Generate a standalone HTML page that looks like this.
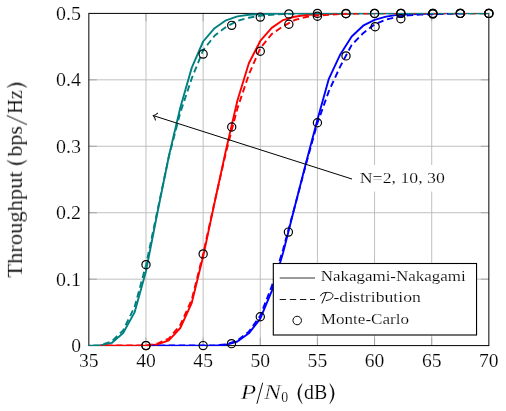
<!DOCTYPE html>
<html><head><meta charset="utf-8"><title>Throughput</title>
<style>
html,body{margin:0;padding:0;background:#fff;}
body{width:506px;height:411px;overflow:hidden;font-family:"Liberation Serif",serif;}
svg{position:absolute;left:0;top:0;display:block;}
text{font-family:"Liberation Serif",serif;fill:#000;stroke:#fff;stroke-width:0.16px;}
</style></head><body>
<svg width="506" height="411" viewBox="0 0 506 411">
<rect x="0" y="0" width="506" height="411" fill="#fff"/>

<path d="M145.99,13.40 V345.60 M203.14,13.40 V345.60 M260.28,13.40 V345.60 M317.42,13.40 V345.60 M374.56,13.40 V345.60 M431.71,13.40 V345.60 M88.85,279.16 H488.85 M88.85,212.72 H488.85 M88.85,146.28 H488.85 M88.85,79.84 H488.85" stroke="#b9b9b9" stroke-width="0.9" fill="none"/>
<path d="M145.99,345.60 v-8 M145.99,13.40 v8 M203.14,345.60 v-8 M203.14,13.40 v8 M260.28,345.60 v-8 M260.28,13.40 v8 M317.42,345.60 v-8 M317.42,13.40 v8 M374.56,345.60 v-8 M374.56,13.40 v8 M431.71,345.60 v-8 M431.71,13.40 v8 M88.85,279.16 h8 M488.85,279.16 h-8 M88.85,212.72 h8 M488.85,212.72 h-8 M88.85,146.28 h8 M488.85,146.28 h-8 M88.85,79.84 h8 M488.85,79.84 h-8" stroke="#9a9a9a" stroke-width="0.8" fill="none"/>
<rect x="88.85" y="13.40" width="400.00" height="332.20" fill="none" stroke="#000" stroke-width="1.0"/>
<clipPath id="pc"><rect x="88.35" y="12.90" width="401.00" height="333.20"/></clipPath>
<g fill="none" stroke-width="1.9" stroke-linejoin="round" clip-path="url(#pc)">
<path d="M151.71,345.60 L214.56,345.60 L225.99,344.80 L237.42,341.48 L248.85,333.31 L260.28,318.69 L271.71,291.12 L283.14,252.58 L294.56,207.40 L305.99,162.89 L317.42,119.70 L328.85,78.84 L340.28,54.46 L351.71,36.52 L363.14,25.69 L374.56,19.84 L385.99,16.59 L397.42,14.86 L408.85,14.20 L420.28,13.93 L431.71,13.67 L443.14,13.40" stroke="#0000ff"/>
<path d="M100.28,345.60 L145.99,345.60 L157.42,344.40 L168.85,340.28 L180.28,327.99 L191.71,303.08 L203.14,256.57 L214.56,202.75 L225.99,149.93 L237.42,100.44 L248.85,63.23 L260.28,40.97 L271.71,27.88 L283.14,20.04 L294.56,16.72 L305.99,15.06 L317.42,14.40 L328.85,13.93 L340.28,13.60 L351.71,13.40" stroke="#ff0000"/>
<path d="M88.85,345.60 L100.28,345.40 L111.71,342.94 L123.14,332.98 L134.56,312.38 L145.99,271.19 L157.42,212.72 L168.85,156.25 L180.28,107.74 L191.71,67.88 L203.14,41.50 L214.56,28.22 L225.99,20.31 L237.42,16.39 L248.85,14.80 L260.28,14.06 L271.71,13.73 L283.14,13.53 L294.56,13.40 L488.85,13.40" stroke="#008080"/>
<path d="M151.71,345.60 L214.56,345.47 L225.99,344.27 L237.42,340.62 L248.85,331.65 L260.28,315.70 L271.71,286.47 L283.14,249.26 L294.56,207.40 L305.99,164.22 L317.42,123.03 L328.85,91.13 L340.28,66.35 L351.71,44.89 L363.14,33.20 L374.56,24.36 L385.99,19.71 L397.42,16.72 L408.85,15.39 L420.28,14.66 L431.71,14.20 L443.14,13.93 L454.56,13.67 L465.99,13.40" stroke="#0000ff" stroke-dasharray="6.4 3.7" stroke-dashoffset="3.26"/>
<path d="M100.28,345.60 L145.99,345.40 L157.42,343.61 L168.85,338.62 L180.28,325.00 L191.71,299.76 L203.14,253.91 L214.56,202.09 L225.99,152.26 L237.42,108.41 L248.85,74.52 L260.28,48.21 L271.71,34.13 L283.14,26.16 L294.56,20.04 L305.99,16.99 L317.42,15.59 L328.85,14.73 L340.28,14.06 L351.71,13.73 L363.14,13.53 L374.56,13.40" stroke="#ff0000" stroke-dasharray="6.4 3.7" stroke-dashoffset="4.33"/>
<path d="M374.56,13.40 H488.85" stroke="#ff0000" stroke-dasharray="6.4 3.7" stroke-dashoffset="5.56"/>
<path d="M88.85,345.60 L100.28,345.33 L111.71,341.48 L123.14,330.32 L134.56,307.06 L145.99,265.21 L157.42,210.73 L168.85,156.58 L180.28,112.73 L191.71,78.51 L203.14,50.27 L214.56,35.72 L225.99,27.02 L237.42,20.84 L248.85,17.72 L260.28,15.79 L271.71,14.73 L283.14,14.06 L294.56,13.73 L305.99,13.53 L317.42,13.40" stroke="#008080" stroke-dasharray="6.4 3.7" stroke-dashoffset="5.40"/>
<path d="M317.42,13.40 H488.85" stroke="#008080" stroke-dasharray="6.4 3.7" stroke-dashoffset="0.52"/>
</g>
<g fill="none" stroke="#000" stroke-width="1.2">
<circle cx="145.99" cy="264.68" r="4.1"/>
<circle cx="203.14" cy="54.06" r="4.1"/>
<circle cx="231.71" cy="25.36" r="4.1"/>
<circle cx="260.28" cy="17.12" r="4.1"/>
<circle cx="288.85" cy="13.93" r="4.1"/>
<circle cx="317.42" cy="13.40" r="4.1"/>
<circle cx="345.99" cy="13.40" r="4.1"/>
<circle cx="374.56" cy="13.40" r="4.1"/>
<circle cx="400.85" cy="13.40" r="4.1"/>
<circle cx="432.85" cy="13.40" r="4.1"/>
<circle cx="460.28" cy="13.40" r="4.1"/>
<circle cx="488.85" cy="13.40" r="4.1"/>
<circle cx="145.99" cy="345.60" r="4.1"/>
<circle cx="203.14" cy="253.91" r="4.1"/>
<circle cx="231.71" cy="127.01" r="4.1"/>
<circle cx="260.28" cy="51.27" r="4.1"/>
<circle cx="288.85" cy="24.23" r="4.1"/>
<circle cx="317.42" cy="16.19" r="4.1"/>
<circle cx="345.99" cy="13.73" r="4.1"/>
<circle cx="374.56" cy="13.40" r="4.1"/>
<circle cx="400.85" cy="13.40" r="4.1"/>
<circle cx="432.85" cy="13.40" r="4.1"/>
<circle cx="460.28" cy="13.40" r="4.1"/>
<circle cx="488.85" cy="13.40" r="4.1"/>
<circle cx="145.99" cy="345.60" r="4.1"/>
<circle cx="203.14" cy="345.60" r="4.1"/>
<circle cx="231.48" cy="343.67" r="4.1"/>
<circle cx="260.28" cy="316.77" r="4.1"/>
<circle cx="288.39" cy="232.12" r="4.1"/>
<circle cx="317.42" cy="122.76" r="4.1"/>
<circle cx="345.99" cy="55.92" r="4.1"/>
<circle cx="375.14" cy="26.69" r="4.1"/>
<circle cx="400.85" cy="18.72" r="4.1"/>
<circle cx="432.85" cy="14.06" r="4.1"/>
<circle cx="460.28" cy="13.40" r="4.1"/>
<circle cx="488.85" cy="13.40" r="4.1"/>
</g>
<rect x="356" y="165" width="92" height="26.5" fill="#fff"/>
<path d="M352.06,179.05 L153.5,115.68" stroke="#000" stroke-width="1.0" fill="none"/>
<g transform="translate(153.1,115.55) rotate(17.701)"><path d="M3.6,-3.6 C2.6,-1.5 1.3,-0.4 0,0 C1.3,0.4 2.6,1.5 3.6,3.6" stroke="#000" stroke-width="1.0" fill="none" stroke-linecap="round" stroke-linejoin="round"/></g>
<rect x="273.3" y="263.5" width="203.25" height="71.5" fill="#fff" stroke="#000" stroke-width="1.1"/>
<path d="M279.7,278.0 H315" stroke="#000" stroke-width="0.8"/>
<path d="M279.7,299.5 H315" stroke="#000" stroke-width="0.9" stroke-dasharray="6.4 3.7"/>
<circle cx="297.2" cy="320.5" r="4.25" fill="none" stroke="#000" stroke-width="1"/>
<g opacity="0.999">
<text x="359.8" y="182.7" font-size="14.4" textLength="85" lengthAdjust="spacingAndGlyphs">N=2, 10, 30</text>
<text x="320.8" y="281.1" font-size="14.4" textLength="144.8" lengthAdjust="spacingAndGlyphs">Nakagami-Nakagami</text>
<path d="M320.5,295.8 C321.4,293.2 324.3,292.4 327.4,292.4 C330.9,292.4 333.1,293.6 332.9,295.7 C332.6,298.6 329.6,300.2 326.2,300.5 M325.9,293.3 C324.9,296.5 323.5,299.8 322.0,303.1" fill="none" stroke="#000" stroke-width="1.0" stroke-linecap="round"/>
<text x="333.4" y="302.4" font-size="14.4" textLength="87.5" lengthAdjust="spacingAndGlyphs">-distribution</text>
<text x="320.8" y="323.7" font-size="14.4" textLength="88.3" lengthAdjust="spacingAndGlyphs">Monte-Carlo</text>
<text x="79.05" y="367" font-size="19.2" textLength="19.6" lengthAdjust="spacingAndGlyphs">35</text>
<text x="136.19" y="367" font-size="19.2" textLength="19.6" lengthAdjust="spacingAndGlyphs">40</text>
<text x="193.34" y="367" font-size="19.2" textLength="19.6" lengthAdjust="spacingAndGlyphs">45</text>
<text x="250.48" y="367" font-size="19.2" textLength="19.6" lengthAdjust="spacingAndGlyphs">50</text>
<text x="307.62" y="367" font-size="19.2" textLength="19.6" lengthAdjust="spacingAndGlyphs">55</text>
<text x="364.76" y="367" font-size="19.2" textLength="19.6" lengthAdjust="spacingAndGlyphs">60</text>
<text x="421.91" y="367" font-size="19.2" textLength="19.6" lengthAdjust="spacingAndGlyphs">65</text>
<text x="479.05" y="367" font-size="19.2" textLength="19.6" lengthAdjust="spacingAndGlyphs">70</text>
<text x="71.2" y="352.20" font-size="19.2" textLength="9.8" lengthAdjust="spacingAndGlyphs">0</text>
<text x="55.9" y="285.76" font-size="19.2" textLength="25" lengthAdjust="spacingAndGlyphs">0.1</text>
<text x="55.9" y="219.32" font-size="19.2" textLength="25" lengthAdjust="spacingAndGlyphs">0.2</text>
<text x="55.9" y="152.88" font-size="19.2" textLength="25" lengthAdjust="spacingAndGlyphs">0.3</text>
<text x="55.9" y="86.44" font-size="19.2" textLength="25" lengthAdjust="spacingAndGlyphs">0.4</text>
<text x="55.9" y="20.00" font-size="19.2" textLength="25" lengthAdjust="spacingAndGlyphs">0.5</text>
<text x="240.7" y="398.7" font-size="20" font-style="italic" textLength="15.4" lengthAdjust="spacingAndGlyphs" style="stroke-width:0.32px">P</text>
<path d="M256.9,403.8 L262.7,382.7" stroke="#000" stroke-width="0.95"/>
<text x="264.0" y="398.7" font-size="20" font-style="italic" textLength="17.0" lengthAdjust="spacingAndGlyphs" style="stroke-width:0.32px">N</text>
<text x="281.2" y="401.6" font-size="14.2" textLength="6.9" lengthAdjust="spacingAndGlyphs">0</text>
<path d="M302.20,383.60 Q293.40,393.70 302.20,403.80 Q296.40,393.70 302.20,383.60 Z" fill="#000" stroke="#000" stroke-width="0.35"/>
<text x="304.0" y="398.7" font-size="20" textLength="23.2" lengthAdjust="spacingAndGlyphs">dB</text>
<path d="M329.80,383.60 Q338.60,393.70 329.80,403.80 Q335.60,393.70 329.80,383.60 Z" fill="#000" stroke="#000" stroke-width="0.35"/>
<g transform="translate(21.9,277.6) rotate(-90)">
<text x="0" y="0" font-size="20" textLength="106.2" lengthAdjust="spacingAndGlyphs">Throughput</text>
<path d="M117.20,-15.10 Q108.40,-5.00 117.20,5.10 Q111.40,-5.00 117.20,-15.10 Z" fill="#000" stroke="#000" stroke-width="0.35"/>
<text x="120.9" y="0" font-size="20" textLength="30.6" lengthAdjust="spacingAndGlyphs">bps</text>
<path d="M153.0,5.1 L162.2,-15.2" stroke="#000" stroke-width="0.95"/>
<text x="163.7" y="0" font-size="20" textLength="23.8" lengthAdjust="spacingAndGlyphs">Hz</text>
<path d="M190.30,-15.10 Q199.10,-5.00 190.30,5.10 Q196.10,-5.00 190.30,-15.10 Z" fill="#000" stroke="#000" stroke-width="0.35"/>
</g>
</g>
</svg></body></html>
